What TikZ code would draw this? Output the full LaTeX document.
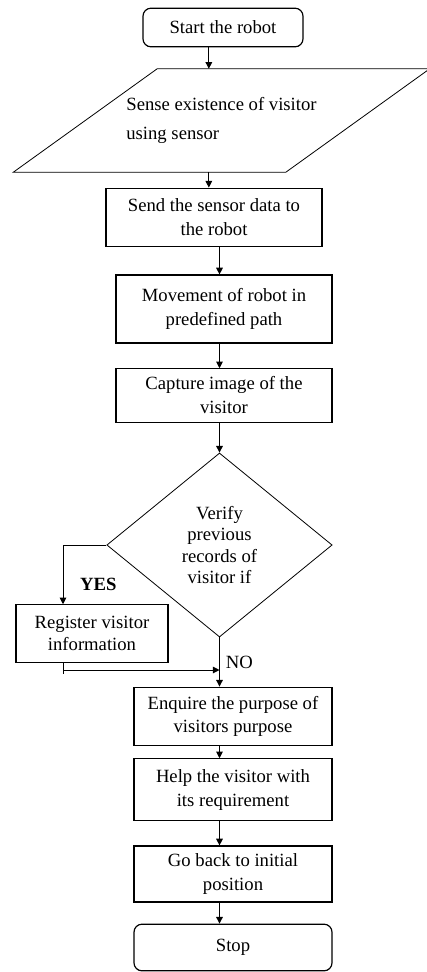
\documentclass[tikz,border=0pt]{standalone}
\usepackage{fontspec}
\setmainfont{Liberation Serif}
\usetikzlibrary{arrows.meta,shapes.geometric,positioning}

\begin{document}
\begin{tikzpicture}
	[x=0.75pt, y=-0.75pt, font=\fontsize{14}{18}\selectfont, inner sep=0pt,
	terminal/.style	= {rectangle, rounded corners=6pt, draw, line width=0.9pt, align=center},
	process/.style	= {rectangle, draw, line width=0.9pt, align=center},
	io/.style	= {rectangle, align=left, minimum width=204pt, minimum height=77.25pt},
	decision/.style	= {diamond, draw, line width=0.6pt, align=center, aspect=1.22},
	paths/.style	= {-{Triangle[width=5pt, length=5pt]}, line width=0.7pt},
	lines/.style	= {line width=0.7pt}]
	
	\useasboundingbox (0,0) rectangle (427,972);
	
	\node at (223, 27.5)	[terminal, minimum width=120pt, minimum height=29pt]	(start)	{Start the robot};
	\node at (221.5, 120.5)	[io]		(sense)	{Sense existence of visitor\\[3.5pt]using sensor};
	\node at (214, 217.5)	[process, minimum width=162pt, minimum height=44pt]	(send)	{Send the sensor data to\\the robot};
	\node at (224, 309)		[process, minimum width=162pt, minimum height=51pt]	(move)	{Movement of robot in\\predefined path};
	\node at (224, 395.5)	[process, minimum width=162pt, minimum height=40pt]	(capture)	{Capture image of the\\visitor};
	\node at (219.5, 545)	[decision, minimum width=169pt, minimum height=138pt]	(verify)	{\\[-8pt]Verify\\[-2pt]previous\\[-2pt]records of\\[-2pt]visitor if};
	\node at (92, 633.5)	[process, minimum width=114pt, minimum height=43pt]	(register)	{Register visitor\\[-1pt]information};
	\node at (233, 716.5)	[process, minimum width=148.5pt, minimum height=44pt]	(enquire)	{Enquire the purpose of\\[-1pt]visitors purpose};
	\node at (233, 789.5)	[process, minimum width=148.5pt, minimum height=46pt]	(help)	{Help the visitor with\\its requirement};
	\node at (233, 874)		[process, minimum width=148.5pt, minimum height=42pt]	(goback)	{Go back to initial\\position};
	\node at (233, 947.5)	[terminal, minimum width=148.5pt, minimum height=35pt]	(stop)	{Stop};
	
	% slanted outline of the input box
	\draw [line width=0.6pt] ([xshift=54pt]sense.north west) -- ([xshift=54pt]sense.north east)
		-- ([xshift=-54pt]sense.south east) -- ([xshift=-54pt]sense.south west) -- cycle;
	
	\coordinate (yes)	at (63, 545);
	\coordinate (back)	at (63, 670);
	
	\draw [paths] ([xshift=-9.5pt]sense.north |- start.south) -- ([xshift=-9.5pt]sense.north);
	\draw [paths] ([xshift=-9.5pt]sense.south) -- ([xshift=-9.5pt]sense.south |- send.north);
	\draw [paths] (verify.north |- send.south) -- (verify.north |- move.north);
	\draw [paths] (verify.north |- move.south) -- (verify.north |- capture.north);
	\draw [paths] (verify.north |- capture.south) -- (verify.north);
	
	\draw [paths] (verify.west) -- (yes) -- (yes |- register.north) node[pos=0.66, anchor=west, xshift=12.5pt] {\textbf{YES}};
	\draw [paths] (verify.south) -- (verify.south |- enquire.north) node[midway, anchor=west, xshift=4.5pt] {NO};
	\draw [lines] (yes |- register.south) -- ([yshift=-3pt]back);
	\draw [paths] (back) -- (back -| verify.south);
	
	\draw [paths] (verify.south |- enquire.south) -- (verify.south |- help.north);
	\draw [paths] (verify.south |- help.south) -- (verify.south |- goback.north);
	\draw [paths] (verify.south |- goback.south) -- (verify.south |- stop.north);
\end{tikzpicture}
\end{document}
